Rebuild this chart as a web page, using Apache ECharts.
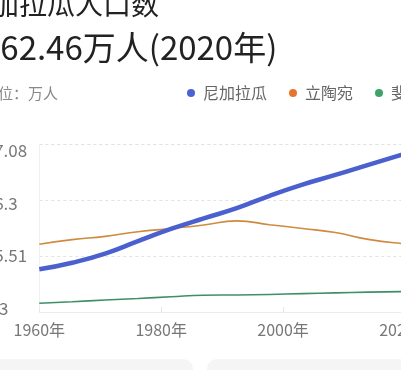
<!DOCTYPE html>
<html>
<head>
<meta charset="utf-8">
<script src="https://cdn.jsdelivr.net/npm/echarts@6/dist/echarts.min.js"></script>
<style>
html, body { margin: 0; padding: 0; background: #fff; }
#main { width: 401px; height: 370px; }
</style>
</head>
<body>
<div id="main"></div>
<script>
// 数据（万人）
var years = ['1960', '1965', '1970', '1975', '1980', '1985', '1990', '1995', '2000', '2005', '2010', '2015', '2020'];
var nicaragua = [173, 199, 235, 284, 332, 374, 414, 463, 507, 545, 585, 624, 662.46];
var lithuania = [272, 290, 303, 321, 334, 348, 364, 349, 334, 318, 291, 275, 266];
var fiji = [39, 45, 52, 58, 65, 71, 72, 74, 77, 80, 83, 85, 88];
var yMin = 4.73;
var yMax = 667.08;
var yStep = (yMax - yMin) / 3;

var font = '"Noto Sans CJK SC", "Noto Sans", sans-serif';

function fmtY(v) {
	return String(+v.toFixed(2));
}

var myChart = echarts.init(document.getElementById('main'));

var option = {
	animation : false,
	backgroundColor : '#fff',
	title : [ {
		text : '尼加拉瓜人口数',
		left : -37,
		top : -10,
		padding : 0,
		textStyle : { fontSize : 28, fontWeight : 'normal', color : '#222', fontFamily : font, lineHeight : 28 }
	}, {
		text : '662.46万人(2020年)',
		left : -18,
		top : 31,
		padding : 0,
		textStyle : { fontSize : 33, fontWeight : 'normal', color : '#222', fontFamily : font, lineHeight : 33 }
	}, {
		text : '单位：万人',
		left : -17,
		top : 85,
		padding : 0,
		textStyle : { fontSize : 15, fontWeight : 'normal', color : '#888', fontFamily : font, lineHeight : 16 }
	} ],
	legend : {
		data : [ '尼加拉瓜', '立陶宛', '斐济' ],
		left : 187,
		top : 85,
		width : 500,
		padding : 0,
		icon : 'circle',
		itemWidth : 8,
		itemHeight : 8,
		itemGap : 22,
		textStyle : { fontSize : 16, color : '#666', fontFamily : font, padding : [ 0, 0, 0, 3 ] }
	},
	grid : [
		// 折线区域
		{ left : 39.3, top : 144, height : 168, width : 394.8, outerBoundsMode : 'none' },
		// y轴标签
		{ left : 39.3, top : 150.7, height : 157.6, width : 300, outerBoundsMode : 'none' },
		// x轴标签
		{ left : 39.3, top : 144, height : 168, width : 365.7, outerBoundsMode : 'none' }
	],
	xAxis : [ {
		gridIndex : 0,
		type : 'category',
		boundaryGap : false,
		data : years,
		axisLine : { show : true, lineStyle : { color : '#ececec' } },
		axisTick : { show : false },
		axisLabel : { show : false }
	}, {
		gridIndex : 1,
		type : 'category',
		boundaryGap : false,
		data : years,
		show : false
	}, {
		gridIndex : 2,
		type : 'category',
		boundaryGap : false,
		data : years,
		axisLine : { show : false },
		axisTick : { show : true, inside : true, length : 5, interval : 3, lineStyle : { color : '#e6e6e6' } },
		axisLabel : {
			interval : 3,
			margin : 10,
			fontSize : 16,
			color : '#777',
			fontFamily : font,
			formatter : function(v) { return v + '年'; }
		}
	} ],
	yAxis : [ {
		gridIndex : 0,
		type : 'value',
		min : yMin,
		max : yMax,
		interval : yStep,
		axisLine : { show : true, lineStyle : { color : '#f0f0f0' } },
		axisTick : { show : false },
		axisLabel : { show : false },
		splitLine : { show : true, lineStyle : { color : '#e3e3e3', type : [ 3, 3 ] } }
	}, {
		gridIndex : 1,
		type : 'value',
		min : yMin,
		max : yMax,
		interval : yStep,
		axisLine : { show : false },
		axisTick : { show : false },
		splitLine : { show : false },
		axisLabel : {
			align : 'left',
			margin : 64,
			fontSize : 17,
			color : '#777',
			fontFamily : font,
			formatter : fmtY
		}
	}, {
		gridIndex : 2,
		type : 'value',
		min : yMin,
		max : yMax,
		show : false
	} ],
	series : [ {
		name : '尼加拉瓜',
		type : 'line',
		xAxisIndex : 0,
		yAxisIndex : 0,
		smooth : true,
		showSymbol : false,
		itemStyle : { color : '#4a62d4' },
		lineStyle : { color : '#4b60cf', width : 4.5 },
		data : nicaragua,
		z : 4
	}, {
		name : '立陶宛',
		type : 'line',
		xAxisIndex : 0,
		yAxisIndex : 0,
		smooth : true,
		showSymbol : false,
		itemStyle : { color : '#e6742f' },
		lineStyle : { color : '#cf8a3e', width : 1.6 },
		data : lithuania,
		z : 3
	}, {
		name : '斐济',
		type : 'line',
		xAxisIndex : 0,
		yAxisIndex : 0,
		smooth : true,
		showSymbol : false,
		itemStyle : { color : '#3ea36b' },
		lineStyle : { color : '#3f8f66', width : 1.6 },
		data : fiji,
		z : 3
	} ],
	graphic : [ {
		type : 'rect',
		shape : { x : -20, y : 359, width : 213, height : 40, r : 10 },
		style : { fill : '#f5f5f5' },
		silent : true
	}, {
		type : 'rect',
		shape : { x : 207, y : 359, width : 230, height : 40, r : 10 },
		style : { fill : '#f5f5f5' },
		silent : true
	} ]
};

myChart.setOption(option);
</script>
</body>
</html>
